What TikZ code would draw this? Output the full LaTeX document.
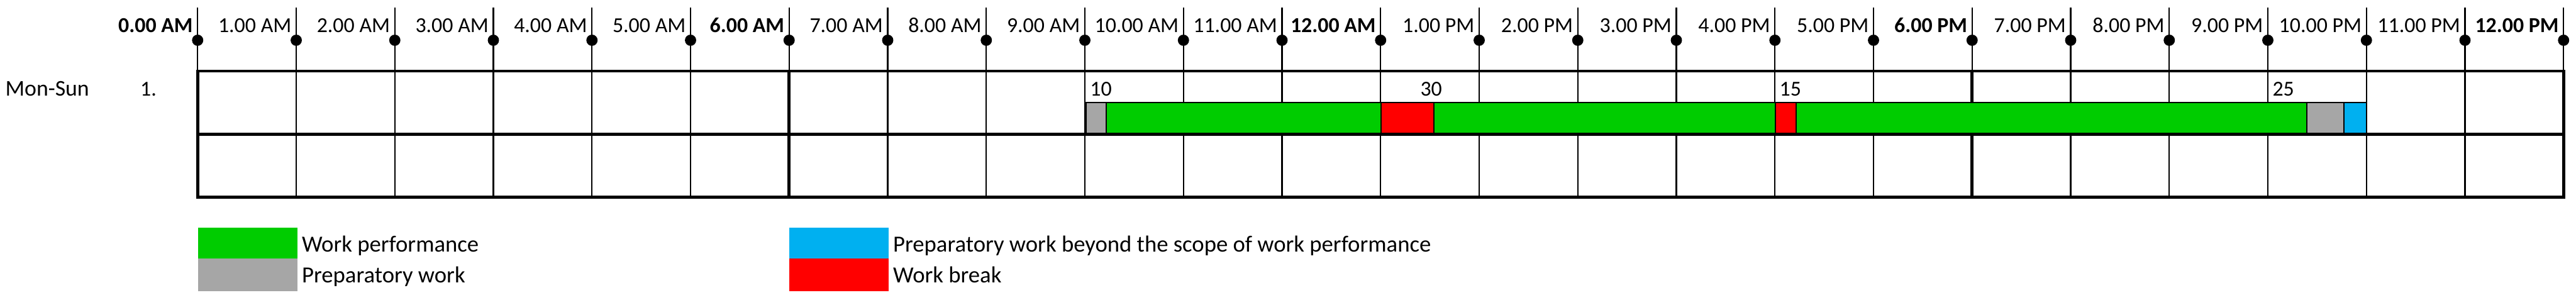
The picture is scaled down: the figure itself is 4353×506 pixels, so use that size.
\documentclass[tikz,border=0pt]{standalone}
\usepackage{fontspec}
\setmainfont{Carlito}
\definecolor{workgreen}{RGB}{0,204,0}
\definecolor{prepgray}{RGB}{166,166,166}
\definecolor{breakred}{RGB}{255,0,0}
\definecolor{prepblue}{RGB}{0,176,240}
\begin{document}
\begin{tikzpicture}[x=1pt,y=-1pt,
  txt/.style={inner sep=0pt, font=\fontsize{36}{40}\selectfont},
  hlabel/.style={txt, anchor=base east},
  blabel/.style={txt, anchor=base east, font=\fontsize{36}{40}\selectfont\bfseries},
  lbl/.style={txt, anchor=base west},
  leglbl/.style={lbl, font=\fontsize{39}{42}\selectfont},
  tickline/.style={line width=2.2pt},
  thinline/.style={line width=2.5pt},
  thickline/.style={line width=5pt},
  seg/.style={draw=black, line width=2pt}
]
\useasboundingbox[fill=white] (0,0) rectangle (4353,506);
% ticks and dots
\foreach \k in {0,...,24}{
  \pgfmathsetmacro\xx{334+\k*166.583}
  \draw[tickline] (\xx,13) -- (\xx,120);
  \fill (\xx,68) circle (9.5);
}
% hour labels
\foreach \t [count=\i from 1] in {1.00 AM,2.00 AM,3.00 AM,4.00 AM,5.00 AM}{
  \pgfmathsetmacro\xx{334+\i*166.583-8}
  \node[hlabel] (h\i) at (\xx,55) {\t};
}
\foreach \t [count=\i from 7] in {7.00 AM,8.00 AM,9.00 AM,10.00 AM,11.00 AM}{
  \pgfmathsetmacro\xx{334+\i*166.583-8}
  \node[hlabel] (h\i) at (\xx,55) {\t};
}
\foreach \t [count=\i from 13] in {1.00 PM,2.00 PM,3.00 PM,4.00 PM,5.00 PM}{
  \pgfmathsetmacro\xx{334+\i*166.583-8}
  \node[hlabel] (h\i) at (\xx,55) {\t};
}
\foreach \t [count=\i from 19] in {7.00 PM,8.00 PM,9.00 PM,10.00 PM,11.00 PM}{
  \pgfmathsetmacro\xx{334+\i*166.583-8}
  \node[hlabel] (h\i) at (\xx,55) {\t};
}
\node[blabel] (h0) at (326,55) {0.00 AM};
\node[blabel] (h6) at (1325.5,55) {6.00 AM};
\node[blabel] (h12) at (2325,55) {12.00 AM};
\node[blabel] (h18) at (3324.5,55) {6.00 PM};
\node[blabel] (h24) at (4324,55) {12.00 PM};
% row labels
\node[lbl, font=\fontsize{38}{42}\selectfont] (day) at (9,162) {Mon-Sun};
\node[lbl] (num) at (237,162) {1.};
% grid vertical lines
\foreach \k in {1,...,23}{
  \pgfmathsetmacro\xx{334+\k*166.583}
  \ifnum\k=6 \draw[thickline] (\xx,120) -- (\xx,333);
  \else\ifnum\k=18 \draw[thickline] (\xx,120) -- (\xx,333);
  \else \draw[thinline] (\xx,120) -- (\xx,333);
  \fi\fi
}
% bar
\filldraw[seg, fill=prepgray] (1835,173) rectangle (1869,227);
\filldraw[seg, fill=workgreen] (1869,173) rectangle (2334,227);
\filldraw[seg, fill=breakred] (2334,173) rectangle (2423,227);
\filldraw[seg, fill=workgreen] (2423,173) rectangle (3000,227);
\filldraw[seg, fill=breakred] (3000,173) rectangle (3035,227);
\filldraw[seg, fill=workgreen] (3035,173) rectangle (3898,227);
\filldraw[seg, fill=prepgray] (3898,173) rectangle (3961,227);
\filldraw[seg, fill=prepblue] (3961,173) rectangle (3999,227);
\draw[line width=2.5pt] (1835,173) -- (3999,173);
% frame
\draw[thickline] (334,120) rectangle (4332,333);
\draw[thickline] (334,227) -- (4332,227);
% minute labels
\node[lbl] (m10) at (1842,162) {10};
\node[lbl] (m30) at (2400,162) {30};
\node[lbl] (m15) at (3007,162) {15};
\node[lbl] (m25) at (3840,162) {25};
% legend
\fill[workgreen] (335,385) rectangle (503,437);
\fill[prepgray] (335,437) rectangle (503,492);
\fill[prepblue] (1334,385) rectangle (1502,437);
\fill[breakred] (1334,437) rectangle (1502,492);
\node[leglbl] (l1) at (510,426) {Work performance};
\node[leglbl] (l2) at (510,478) {Preparatory work};
\node[leglbl] (l3) at (1509,426) {Preparatory work beyond the scope of work performance};
\node[leglbl] (l4) at (1509,478) {Work break};
\end{tikzpicture}
\end{document}
